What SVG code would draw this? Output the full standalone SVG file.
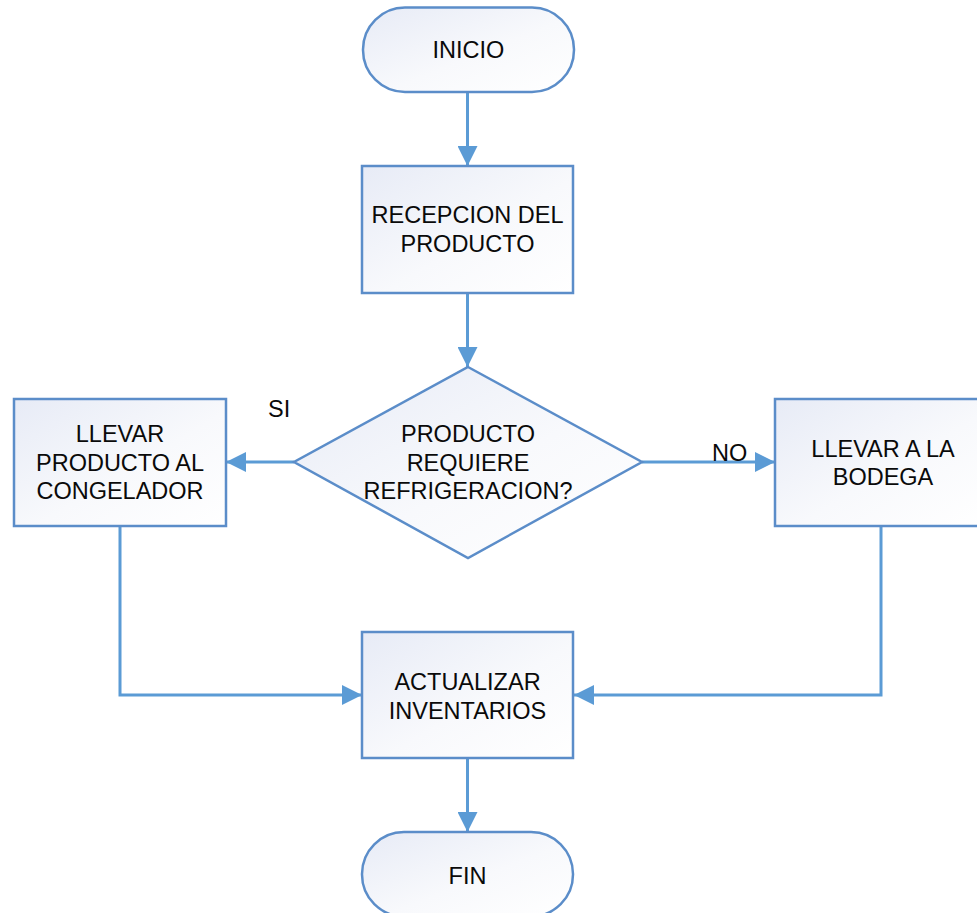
<svg xmlns="http://www.w3.org/2000/svg" width="977" height="913" viewBox="0 0 977 913">
  <defs>
    <linearGradient id="fillGrad" x1="0" y1="0" x2="1" y2="1">
      <stop offset="0" stop-color="#e7ebf6"/>
      <stop offset="0.55" stop-color="#f8f9fc"/>
      <stop offset="1" stop-color="#ffffff"/>
    </linearGradient>
    <marker id="arrow" markerUnits="userSpaceOnUse" markerWidth="20" markerHeight="20" refX="20" refY="10" orient="auto">
      <path d="M0,0 L20,10 L0,20 Z" fill="#5b9bd5"/>
    </marker>
    <style>
      .shape { fill: url(#fillGrad); stroke: #5b8dc9; stroke-width: 2.5; }
      .conn { fill: none; stroke: #5b9bd5; stroke-width: 3; }
      .lbl { font-family: "Liberation Sans", Arial, sans-serif; font-size: 23.5px; fill: #0a0a0a; text-anchor: middle; }
      .tag { font-family: "Liberation Sans", Arial, sans-serif; font-size: 23.5px; fill: #0a0a0a; }
    </style>
  </defs>

  <!-- connectors and their branch labels -->
  <g id="connectors">
    <line class="conn" x1="467.5" y1="92" x2="467.5" y2="166" marker-end="url(#arrow)"/>
    <line class="conn" x1="467.5" y1="293" x2="467.5" y2="367" marker-end="url(#arrow)"/>
    <line class="conn" x1="294" y1="462" x2="226" y2="462" marker-end="url(#arrow)"/>
    <line class="conn" x1="642" y1="462" x2="775" y2="462" marker-end="url(#arrow)"/>
    <polyline class="conn" points="120,526 120,695 362,695" marker-end="url(#arrow)"/>
    <polyline class="conn" points="881,526 881,695 574,695" marker-end="url(#arrow)"/>
    <line class="conn" x1="467.5" y1="758" x2="467.5" y2="832" marker-end="url(#arrow)"/>
    <text class="tag" x="268" y="417">SI</text>
    <text class="tag" x="712" y="461">NO</text>
  </g>

  <g id="inicio">
    <rect class="shape" x="363" y="7.5" width="211" height="84.5" rx="42" ry="42"/>
    <text class="lbl" x="468.5" y="58">INICIO</text>
  </g>

  <g id="recepcion">
    <rect class="shape" x="362" y="166" width="211" height="127"/>
    <text class="lbl" x="467.5" y="223">RECEPCION DEL</text>
    <text class="lbl" x="467.5" y="251.5">PRODUCTO</text>
  </g>

  <g id="decision">
    <polygon class="shape" points="468,367 642,462 468,558 294,462"/>
    <text class="lbl" x="468" y="442">PRODUCTO</text>
    <text class="lbl" x="468" y="470.5">REQUIERE</text>
    <text class="lbl" x="468" y="499">REFRIGERACION?</text>
  </g>

  <g id="congelador">
    <rect class="shape" x="14" y="399" width="212" height="127"/>
    <text class="lbl" x="120" y="442">LLEVAR</text>
    <text class="lbl" x="120" y="471">PRODUCTO AL</text>
    <text class="lbl" x="120" y="499">CONGELADOR</text>
  </g>

  <g id="bodega">
    <rect class="shape" x="775" y="399" width="211" height="127"/>
    <text class="lbl" x="883" y="457">LLEVAR A LA</text>
    <text class="lbl" x="883" y="485">BODEGA</text>
  </g>

  <g id="actualizar">
    <rect class="shape" x="362" y="632" width="211" height="126"/>
    <text class="lbl" x="467.5" y="690">ACTUALIZAR</text>
    <text class="lbl" x="467.5" y="719">INVENTARIOS</text>
  </g>

  <g id="fin">
    <rect class="shape" x="362" y="832" width="211" height="84.5" rx="42" ry="42"/>
    <text class="lbl" x="467.5" y="884">FIN</text>
  </g>
</svg>
